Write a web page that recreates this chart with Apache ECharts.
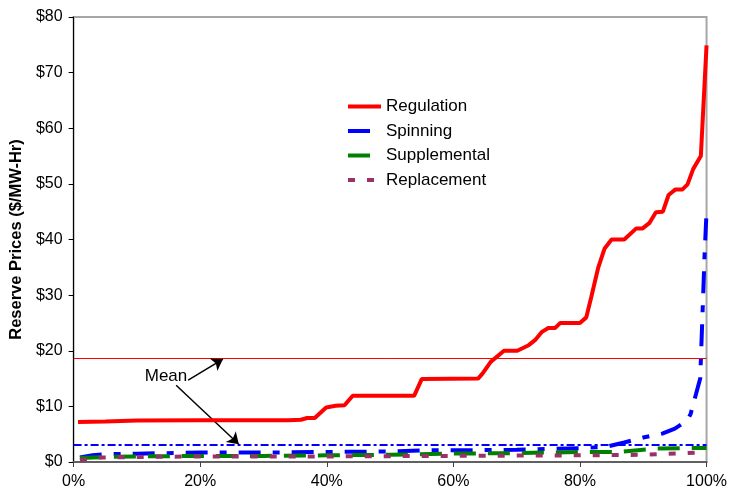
<!DOCTYPE html>
<html>
<head>
<meta charset="utf-8">
<script src="https://cdn.jsdelivr.net/npm/echarts@6/dist/echarts.min.js"></script>
<style>html,body{margin:0;padding:0;background:#fff}#c{width:730px;height:493px}</style>
</head>
<body>
<div id="c"></div>
<script>
// ---- data ----
var seriesNames = ['Regulation', 'Spinning', 'Supplemental', 'Replacement'];
var xTickLabels = ['0%', '20%', '40%', '60%', '80%', '100%'];
var yTickLabels = ['$0', '$10', '$20', '$30', '$40', '$50', '$60', '$70', '$80'];

var regX = [0.7, 5, 10, 20, 34, 35.9, 36.9, 38.1, 39.9, 41.4, 42.8, 44.1, 53.8, 55, 63.9, 64.6, 65.9, 68, 70.1, 71.9, 72.9, 74, 75, 76.1, 76.9, 80, 81, 81.8, 82.9, 83.9, 85, 87, 88.9, 89.9, 91, 92, 93.1, 94, 95.1, 96.2, 97, 97.9, 99.1, 100];
var regY = [7.2, 7.3, 7.45, 7.5, 7.5, 7.6, 7.9, 7.9, 9.8, 10.1, 10.2, 11.9, 11.9, 14.9, 15, 15.9, 18, 20, 20, 21, 21.9, 23.4, 24.1, 24.1, 25, 25, 26, 29.7, 35, 38.4, 40, 40, 42, 42, 43, 44.9, 45, 48, 49, 49, 49.9, 52.7, 55, 74.9];

var spinX = [1, 3, 5, 10, 20, 30, 40, 50, 55, 60, 70, 80, 84, 87, 90, 93, 95, 97, 97.5, 99, 99.7, 100];
var spinY = [0.8, 1.2, 1.4, 1.5, 1.7, 1.7, 1.8, 1.9, 2.1, 2.1, 2.2, 2.5, 2.7, 3.5, 4.4, 5.1, 6, 7.5, 8.7, 15, 37.5, 45];

var supX = [1, 3, 5, 10, 20, 30, 40, 50, 59, 70, 80, 86, 90, 92, 97, 100];
var supY = [0.7, 0.8, 0.9, 1.0, 1.1, 1.1, 1.2, 1.3, 1.5, 1.6, 1.8, 1.8, 2.2, 2.4, 2.5, 2.5];

var repX = [1, 2, 4, 10, 20, 40, 60, 80, 90, 97, 100];
var repY = [0.3, 0.5, 0.8, 0.9, 1.0, 1.0, 1.1, 1.2, 1.3, 1.6, 1.8];

var regulationMean = 18.6;
var spinningMean = 3.05;
var meanLabel = 'Mean';
var meanLabelPos = [14.6, 15.4];
var arrow1 = [[18.1, 14.7], [23.6, 18.5]];
var arrow2 = [[16.2, 13.8], [26.1, 3.2]];

function pairs(xs, ys) { return xs.map(function (x, i) { return [x, ys[i]]; }); }

var FONT = '"Liberation Sans", Arial, sans-serif';
var chart = echarts.init(document.getElementById('c'), null, { renderer: 'canvas' });

var option = {
  animation: false,
  backgroundColor: '#fff',
  grid: { left: 73, right: 19, top: 17, bottom: 31, show: true, borderColor: '#a6a6a6', borderWidth: 2, backgroundColor: 'transparent' },
  legend: {
    data: seriesNames,
    orient: 'vertical',
    left: 346, top: 98,
    padding: 0,
    itemWidth: 33, itemHeight: 14, itemGap: 7.5,
    itemStyle: { opacity: 0 },
    lineStyle: { width: 4 },
    textStyle: { fontFamily: FONT, fontSize: 17, color: '#000', lineHeight: 17 }
  },
  xAxis: {
    type: 'value', min: 0, max: 100, interval: 20,
    axisLine: { show: true, lineStyle: { color: '#606060', width: 2 } },
    axisTick: { show: true, length: 5, lineStyle: { color: '#404040', width: 1 } },
    splitLine: { show: false },
    axisLabel: { margin: 12, fontFamily: FONT, fontSize: 16, color: '#000',
      formatter: function (v) { return xTickLabels[Math.round(v / 20)]; } }
  },
  yAxis: {
    type: 'value', min: 0, max: 80, interval: 10,
    name: 'Reserve Prices ($/MW-Hr)', nameLocation: 'middle', nameGap: 47,
    nameTextStyle: { fontFamily: FONT, fontSize: 16.5, fontWeight: 'bold', color: '#000' },
    axisLine: { show: true, lineStyle: { color: '#000', width: 1 } },
    axisTick: { show: true, length: 5, lineStyle: { color: '#000', width: 1 } },
    splitLine: { show: false },
    axisLabel: { margin: 11, fontFamily: FONT, fontSize: 16, color: '#000',
      formatter: function (v) { return yTickLabels[Math.round(v / 10)]; } }
  },
  series: [
    {
      name: 'Regulation', type: 'line', data: pairs(regX, regY), showSymbol: false, symbol: 'none',
      lineStyle: { color: '#ff0000', width: 4 }, itemStyle: { color: '#ff0000' }, z: 5,
      markLine: {
        silent: true, symbol: 'none', animation: false,
        label: { show: false },
        lineStyle: { color: '#ff0000', width: 1, type: 'solid' },
        data: [{ yAxis: regulationMean }]
      }
    },
    {
      name: 'Spinning', type: 'line', data: pairs(spinX, spinY), showSymbol: false, symbol: 'none',
      lineStyle: { color: '#0000ff', width: 4, type: [22, 12, 7, 12] }, itemStyle: { color: '#0000ff' }, z: 2,
      markLine: {
        silent: true, symbol: 'none', animation: false,
        label: { show: false },
        lineStyle: { color: '#0000ff', width: 2, type: [8, 3, 3, 3] },
        data: [{ yAxis: spinningMean }]
      }
    },
    {
      name: 'Supplemental', type: 'line', data: pairs(supX, supY), showSymbol: false, symbol: 'none',
      lineStyle: { color: '#008000', width: 4, type: [22, 12] }, itemStyle: { color: '#008000' }, z: 3
    },
    {
      name: 'Replacement', type: 'line', data: pairs(repX, repY), showSymbol: false, symbol: 'none',
      lineStyle: { color: '#993366', width: 4, type: [7, 12] }, itemStyle: { color: '#993366' }, z: 4
    },
    {
      name: '__annot', type: 'line', data: [], z: 6,
      markLine: {
        silent: true, animation: false,
        symbol: ['none', 'arrow'], symbolSize: 11,
        label: { show: false },
        itemStyle: { color: '#000' },
        lineStyle: { color: '#000', width: 1.5, type: 'solid' },
        data: [
          [{ coord: arrow1[0] }, { coord: arrow1[1] }],
          [{ coord: arrow2[0] }, { coord: arrow2[1] }]
        ]
      },
      markPoint: {
        silent: true, animation: false,
        symbol: 'circle', symbolSize: 1, itemStyle: { color: 'rgba(0,0,0,0)' },
        label: { show: true, position: 'inside', formatter: meanLabel, fontFamily: FONT, fontSize: 17, color: '#000' },
        data: [{ coord: meanLabelPos }]
      }
    }
  ]
};
chart.setOption(option);
</script>
</body>
</html>
